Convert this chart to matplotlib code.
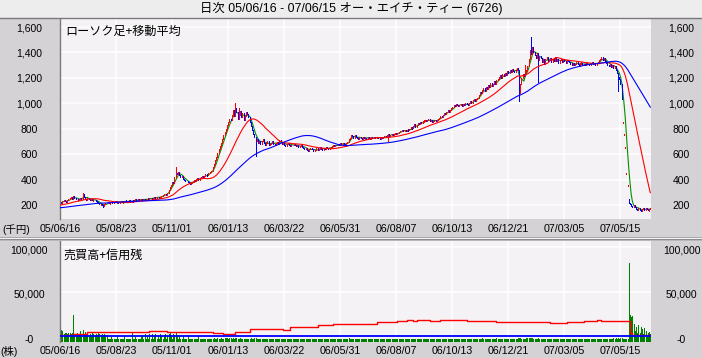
import numpy as np
import pandas as pd
import matplotlib
matplotlib.use("Agg")
import matplotlib.pyplot as plt
from matplotlib.lines import Line2D
from matplotlib.patches import Rectangle

plt.rcParams['font.family'] = ['Liberation Sans', 'Noto Sans CJK JP', 'DejaVu Sans']

# ---------------- data ----------------
TITLE = "日次 05/06/16 - 07/06/15 オー・エイチ・ティー (6726)"
PRICE_LABEL = "ローソク足+移動平均"
VOLUME_LABEL = "売買高+信用残"
PRICE_UNIT = "(千円)"
VOLUME_UNIT = "(株)"
DATE_TICKS = ["05/06/16", "05/08/23", "05/11/01", "06/01/13", "06/03/22", "06/05/31",
              "06/08/07", "06/10/13", "06/12/21", "07/03/05", "07/05/15"]
TICK_STEP = 47
PRICE_TICKS = [200, 400, 600, 800, 1000, 1200, 1400, 1600]
VOL_GRID = [50, 100]
VOL_TICK_LABELS = ["-0", "50,000", "100,000"]
MA_WINDOWS = [5, 25, 75]

# closes before the first shown day (used for the moving averages)
PRE_CLOSE = [158, 162, 155, 150, 154, 160, 166, 158, 152, 148, 155, 162, 170, 165, 158, 163,
             168, 172, 166, 160, 157, 163, 170, 175, 168, 162, 158, 165, 171, 176, 170, 164,
             160, 167, 174, 180, 172, 166, 170, 176, 182, 175, 170, 178, 184, 178, 172, 180, 186,
             182, 188, 194, 186, 180, 190, 198, 192, 186, 195, 202, 196, 190, 198, 206, 200,
             194, 202, 210, 205, 198, 208, 215, 210, 220]

CLOSE = [
    225, 218, 230, 236, 228, 222, 240, 245,
    252, 262, 248, 270, 258, 244, 250, 238, 246, 255, 248,
    285, 262, 250, 242, 256, 248, 240, 244,
    238, 242, 236, 232,
    224, 215, 206, 210, 198, 192, 205, 212,
    218, 222, 215, 220, 226, 218, 222, 228, 220, 224, 218,
    225, 230, 222, 226, 232, 228, 222, 230, 235, 226, 232, 228, 236, 240,
    238, 244, 236, 242, 248, 240, 246, 238, 244, 250, 246,
    252, 258, 248, 256, 262, 255, 260, 266, 258, 264, 270,
    278, 284, 290, 282, 295,
    320, 345, 360, 378, 372,
    420, 455, 440, 462,
    438, 420, 430, 405, 398, 385, 392, 378, 370, 365, 375,
    382, 395, 388, 402, 410, 398, 415, 422, 430, 418, 428, 440, 435, 448, 455, 462, 470,
    495, 520, 555, 580, 610, 640, 665, 690,
    720, 748, 770, 800, 830, 852,
    880, 870,
    910, 945, 900, 965, 930, 880, 905, 940, 895, 920, 870, 900, 935, 915, 890,
    850, 820, 790, 760, 735, 700, 720, 690, 705, 680,
    700, 715, 690, 672, 685, 700, 668, 676, 690, 705, 682, 670, 688, 694, 678,
    712, 695, 680, 688, 672, 665, 678, 690, 670, 662, 675, 668, 680, 672, 660, 668, 655,
    662, 670, 658, 650,
    640, 648, 632, 626, 640, 650, 638, 628, 622, 635, 645, 630, 640, 652, 644, 636, 648,
    642, 655, 646, 640, 650, 658,
    662, 670, 660, 675, 668, 680, 672, 685, 676, 690, 680, 672, 684, 695,
    715, 730, 752, 740, 725, 748, 735,
    728, 720, 735, 726, 718, 732, 725, 730, 722, 736, 728, 720, 732, 726, 735, 724, 730,
    738, 726, 722, 734, 728, 736, 742, 738,
    748, 755, 745, 752, 760, 750, 758, 764, 755, 768,
    776, 785, 778, 790, 782, 786, 780, 792, 788,
    798, 810, 805, 820, 835, 815, 828, 842, 835, 850, 845, 858,
    862, 870, 858, 866, 875, 860, 868, 855, 864, 872, 860, 868, 876,
    885, 900, 892, 910, 925, 915, 935, 948, 930, 945, 960,
    972, 985, 978, 992, 985, 975, 990, 998, 982, 994, 988, 1000, 992, 985,
    1005, 1015, 1002, 1022, 1030, 1018, 1035, 1042,
    1065, 1090, 1078, 1105, 1120, 1095, 1130, 1110, 1145, 1125, 1160, 1138, 1155, 1175,
    1150, 1180, 1190,
    1205, 1220, 1198, 1230, 1215, 1240, 1225, 1250, 1235, 1262, 1245, 1270, 1255, 1248,
    1265, 1275, 1260,
    1080, 1150,
    1195, 1230, 1215, 1248, 1260, 1290,
    1350, 1420, 1390, 1440, 1405,
    1380, 1360, 1395, 1340, 1372, 1355, 1325, 1350, 1310, 1345, 1365, 1330,
    1340, 1355, 1325, 1348, 1336, 1362, 1330, 1345, 1320, 1338, 1352, 1328, 1342, 1335,
    1318, 1340, 1330,
    1322, 1310, 1305, 1318, 1300, 1312, 1325, 1308, 1295, 1315, 1320, 1302, 1310, 1298,
    1318, 1306, 1312, 1300, 1316, 1322, 1308, 1314, 1302, 1320, 1326,
    1338, 1350, 1365, 1342, 1355, 1335,
    1318, 1305, 1295, 1310, 1288, 1300, 1280, 1292,
    1260, 1235, 1210, 1190,
    1150, 1035,
    851, 751, 649, 450, 352, 215,
    205, 192, 180, 196, 184, 170, 162, 174, 160, 152, 166, 172, 163, 176, 168, 160, 165, 172,
]

# opens that differ from the previous close (limit-down days etc.)
OPEN_FIX = {472: 851, 473: 751, 474: 649, 475: 450, 476: 352, 477: 250}
HIGH_SPIKES = {19: 295, 97: 500, 147: 1003, 150: 960, 395: 1520, 390: 1300}
LOW_SPIKES = {36: 185, 164: 586, 275: 700, 385: 1020, 401: 1170, 468: 1100}

# volume in thousand shares
VOLUME_K = [
    9.0, 13.0, 12.0, 8.0, 9.5, 10.0, 8.5, 9.0, 9.8, 8.0, 9.2, 29.4, 8.5, 7.5, 9.0, 8.0, 7.0, 11.4, 8.0, 13.4,
    8.5, 10.4, 7.5, 8.0, 7.0, 8.4, 7.6, 9.0, 8.2, 7.4, 8.8, 7.8, 9.2, 8.0, 7.2, 8.4, 7.6, 8.9, 7.4, 6.8,
    3.2, 2.6, 3.0, 5.5, 2.8, 2.4, 3.1, 2.7, 4.8, 2.5, 2.9, 3.3, 2.6, 2.8, 6.0, 2.5, 3.0, 2.7, 2.4, 3.1,
    9.5, 3.0, 2.8, 5.2, 2.6, 3.2, 2.5, 2.9, 4.5, 7.8, 3.0, 8.2, 2.7, 6.5, 3.1, 7.9, 2.8, 8.4, 3.2, 7.0,
    8.0, 3.0, 7.6, 2.9, 8.5, 6.2, 3.1, 7.8, 8.6, 3.0, 7.2, 8.8, 10.0, 7.5, 3.2, 8.2, 6.8, 9.0, 7.4, 3.0,
    7.0, 2.8, 3.2, 6.5, 2.7, 3.0, 2.6, 6.8, 2.9, 3.1, 2.5, 3.0, 2.8, 2.6, 3.2, 2.7, 6.6, 2.9, 3.0, 2.5,
    2.8, 3.0, 2.6, 2.9, 3.1, 2.7, 3.3, 2.6, 2.9, 3.4, 3.0, 2.8, 3.5, 3.1, 2.9, 3.6, 3.2, 3.0, 3.4, 3.8,
    3.5, 3.2, 3.9, 3.4, 3.1, 3.6, 3.3, 4.0, 3.5, 3.2, 3.0, 3.4, 2.9, 3.1, 2.8, 3.2, 3.0, 2.7, 3.1, 3.3,
    3.6, 3.0, 3.2, 3.5, 3.8, 3.1, 2.9, 3.0, 2.7, 2.8, 3.0, 2.6, 2.9, 2.7, 3.0, 2.8, 2.5, 2.9, 2.6, 2.8,
    2.7, 2.9, 2.5, 2.8, 2.6, 3.0, 2.7, 2.5, 2.8, 2.6, 2.9, 2.4, 2.7, 2.5, 2.8, 2.6, 2.4, 2.7, 2.5, 2.6,
    2.4, 2.7, 2.5, 2.3, 2.6, 2.5, 2.7, 2.4, 2.6, 2.3, 2.5, 2.8, 2.4, 2.6, 2.5, 2.3, 2.6, 2.4, 2.7, 2.5,
    2.6, 2.4, 2.5, 2.7, 2.3, 2.6, 2.5, 2.4, 2.7, 2.5, 2.6, 2.8, 2.5, 2.7, 2.4, 2.6, 2.8, 2.5, 2.7, 2.6,
    2.9, 3.1, 3.4, 3.0, 2.8, 3.2, 2.7, 2.9, 2.6, 2.5, 2.7, 2.4, 2.6, 2.5, 2.3, 2.6, 2.4, 2.5, 2.7, 2.4,
    2.6, 2.5, 2.3, 2.5, 2.4, 2.6, 2.5, 2.3, 2.4, 2.6, 2.5, 2.7, 2.4, 2.6, 2.8, 2.5, 2.7, 2.6, 2.9, 2.6,
    2.7, 2.5, 2.8, 2.6, 2.9, 2.7, 2.5, 2.8, 2.6, 2.7, 2.5, 2.9, 2.6, 2.8, 3.0, 2.7, 2.9, 3.1, 2.8, 2.6,
    2.9, 3.0, 2.7, 3.1, 2.8, 2.6, 2.9, 2.7, 2.5, 2.8, 2.6, 2.7, 2.5, 2.8, 2.6, 2.9, 2.7, 3.0, 2.8, 3.1,
    2.9, 3.2, 2.8, 3.0, 2.7, 2.9, 3.1, 2.8, 2.6, 2.9, 2.7, 2.8, 2.6, 2.9, 2.7, 2.5, 2.8, 2.6, 2.7, 2.9,
    2.6, 2.8, 2.7, 2.9, 2.6, 3.0, 2.8, 3.1, 2.9, 3.2, 3.0, 3.3, 2.9, 3.1, 3.4, 3.0, 3.2, 2.9, 3.3, 3.0,
    3.2, 2.9, 3.1, 3.3, 3.0, 3.2, 3.4, 3.1, 2.9, 3.2, 3.0, 2.8, 3.1, 2.9, 3.2, 3.0, 2.8, 3.1, 2.9, 3.3,
    3.0, 3.2, 2.9, 3.1, 3.4, 4.2, 3.8, 3.3, 3.1, 3.0, 3.2, 3.4, 3.6, 3.9, 4.1, 3.8, 3.5, 3.3, 3.1, 3.0,
    3.2, 3.4, 3.0, 2.9, 3.1, 2.8, 3.0, 2.7, 2.9, 3.1, 2.8, 2.6, 2.9, 2.7, 3.0, 2.8, 2.6, 2.9, 2.7, 2.5,
    2.8, 2.6, 2.9, 2.7, 2.5, 2.8, 2.6, 2.4, 2.7, 2.5, 2.8, 2.6, 2.4, 2.7, 2.5, 2.3, 2.6, 2.4, 2.7, 2.5,
    2.6, 2.4, 2.7, 2.5, 2.8, 2.6, 2.9, 2.7, 2.5, 2.8, 2.6, 2.9, 3.1, 2.8, 3.0, 2.7, 2.9, 2.6, 2.8, 3.0,
    2.7, 2.9, 3.2, 3.0, 3.4, 3.1, 3.5, 3.2, 3.6, 3.3, 3.8, 4.2, 3.0, 2.6, 2.8, 2.5, 3.2, 88.0, 30.0, 27.0,
    29.0, 20.0, 12.0, 16.0, 10.0, 18.0, 9.0, 16.0, 14.0, 8.0, 15.0, 12.0, 7.0, 9.0, 11.0, 8.0,
]

# margin balances (thousand shares), step values starting at these bars
CREDIT_BUY_START = [0, 11, 23, 32, 75, 90, 128, 137, 147, 159, 187, 193, 216, 229, 266, 283,
                    291, 296, 299, 310, 319, 341, 366, 411, 425, 439, 450, 454, 478, 480]
CREDIT_BUY_K = [2.0, 3.0, 4.8, 5.0, 6.3, 5.2, 4.0, 3.0, 5.5, 8.6, 7.5, 10.4, 13.4, 14.5, 16.0, 17.8,
                19.0, 17.8, 19.0, 17.8, 19.0, 17.8, 16.5, 15.0, 16.5, 17.8, 19.0, 17.5, 4.1, 1.5]
CREDIT_SELL_START = [0]
CREDIT_SELL_K = [0.4]

# ---------------- styling ----------------
W, H = 702, 358
BG = '#D4D2D4'
PLOT_BG = '#F5F2F5'
UP, DOWN = '#FF0000', '#0000FF'
MA_COLORS = ['#009000', '#FF0000', '#0000FF']
PX = 0.72  # one pixel in points
THIN = 0.6  # aliased one-pixel vertical strokes


def fx(p):
    return p / W


def fy(p):
    return 1 - p / H


fig = plt.figure(figsize=(W / 100, H / 100), dpi=100, facecolor=BG)

# title bar
fig.patches.append(Rectangle((0, fy(17.5)), 1, 1 - fy(17.5), transform=fig.transFigure,
                             facecolor='#EDEDED', edgecolor='none', zorder=0))
fig.lines.append(Line2D([0, 1], [fy(17.5)] * 2, transform=fig.transFigure, color='#7A7A7A', lw=1.0))
fig.text(0.5, fy(8.5), TITLE, ha='center', va='center', fontsize=8.9, color='black')

# separator between panels
for yy, col in [(236.5, '#A8A8A8'), (237.5, '#F4F4F4'), (238.5, '#8C8C8C'), (239.5, '#B8B8B8')]:
    fig.lines.append(Line2D([0, 1], [fy(yy)] * 2, transform=fig.transFigure, color=col, lw=PX))

ax1 = fig.add_axes([fx(60), fy(219.3), fx(591), (219.3 - 18.5) / H])
ax2 = fig.add_axes([fx(60), fy(341.5), fx(591), (341.5 - 241) / H])

N = len(CLOSE)
idx = np.arange(N)
close = np.array(CLOSE, dtype=float)
prev = np.concatenate([[PRE_CLOSE[-1]], close[:-1]])
opn = prev.copy()
for k, v in OPEN_FIX.items():
    opn[k] = v
hi = np.maximum(opn, close)
lo = np.minimum(opn, close)
for k, v in HIGH_SPIKES.items():
    hi[k] = max(hi[k], v)
for k, v in LOW_SPIKES.items():
    lo[k] = min(lo[k], v)
flat = (hi - lo) < 6
hi[flat] += 4
lo[flat] -= 4
up = close >= opn

tick_pos = [i * TICK_STEP for i in range(len(DATE_TICKS))]

for ax in (ax1, ax2):
    ax.set_facecolor(PLOT_BG)
    for s in ('top', 'right', 'bottom'):
        ax.spines[s].set_visible(False)
    ax.spines['left'].set_color('#7A7A7A')
    ax.spines['left'].set_linewidth(1.0)
    ax.set_xlim(0, N - 0.4)
    ax.set_xticks(tick_pos)
    ax.set_xticklabels(DATE_TICKS, fontsize=7.7)
    ax.tick_params(axis='x', length=0, pad=3.2)
    ax.tick_params(axis='y', length=0, labelleft=True, labelright=True, pad=22, labelsize=7.5)
    ax.grid(axis='x', color='white', lw=1.1)
    ax.set_axisbelow(True)

# ----- price panel -----
ax1.set_ylim(87, 1667)
ax1.set_yticks(PRICE_TICKS)
ax1.set_yticklabels([f"{v:,}" for v in PRICE_TICKS])
ax1.grid(axis='y', color='white', lw=1.1)
for t in ax1.yaxis.get_major_ticks():
    t.label1.set_horizontalalignment('center')
    t.label2.set_horizontalalignment('center')

# short moving average under the candles, longer ones above
ma_all = pd.Series(PRE_CLOSE + CLOSE, dtype=float)
ma_z = {5: 1.5, 25: 3, 75: 3}
for w, col in zip(MA_WINDOWS, MA_COLORS):
    ma = ma_all.rolling(w).mean().to_numpy()[len(PRE_CLOSE):]
    ax1.plot(idx, ma, color=col, lw=0.8, antialiased=True, zorder=ma_z[w])

ax1.vlines(idx[up], lo[up], hi[up], colors=UP, lw=THIN, antialiased=False, zorder=2)
ax1.vlines(idx[~up], lo[~up], hi[~up], colors=DOWN, lw=THIN, antialiased=False, zorder=2)

fig.text(fx(65), fy(31.5), PRICE_LABEL, ha='left', va='center', fontsize=8.7,
         family=['Noto Sans CJK JP'])
fig.text(fx(2), fy(229.3), PRICE_UNIT, ha='left', va='center', fontsize=7.5)

# ----- volume panel -----
YMIN = -5.4
ax2.set_ylim(YMIN, 107)
for g in VOL_GRID:
    ax2.axhline(g, color='white', lw=1.1, zorder=0.5)
ax2.set_yticks([-2.9, 48.5, 97.8])
ax2.set_yticklabels(VOL_TICK_LABELS)
for t in ax2.yaxis.get_major_ticks():
    t.label1.set_horizontalalignment('center')
    t.label2.set_horizontalalignment('center')

vol = np.array(VOLUME_K)
ax2.vlines(idx, YMIN, YMIN + vol, colors='#008000', lw=THIN, antialiased=False, zorder=2)

bx = CREDIT_BUY_START + [N - 1]
by = CREDIT_BUY_K + [CREDIT_BUY_K[-1]]
ax2.step(bx, by, where='post', color='#FF0000', lw=1.0, antialiased=True, zorder=3)
sx = CREDIT_SELL_START + [N - 1]
sy = CREDIT_SELL_K + [CREDIT_SELL_K[-1]]
ax2.step(sx, sy, where='post', color='#0000FF', lw=1.3, antialiased=True, zorder=3)

fig.text(fx(64), fy(255), VOLUME_LABEL, ha='left', va='center', fontsize=8.7,
         family=['Noto Sans CJK JP'])
fig.text(fx(0.5), fy(351.7), VOLUME_UNIT, ha='left', va='center', fontsize=7.5)

fig.savefig('out.png', dpi=100, facecolor=BG)
